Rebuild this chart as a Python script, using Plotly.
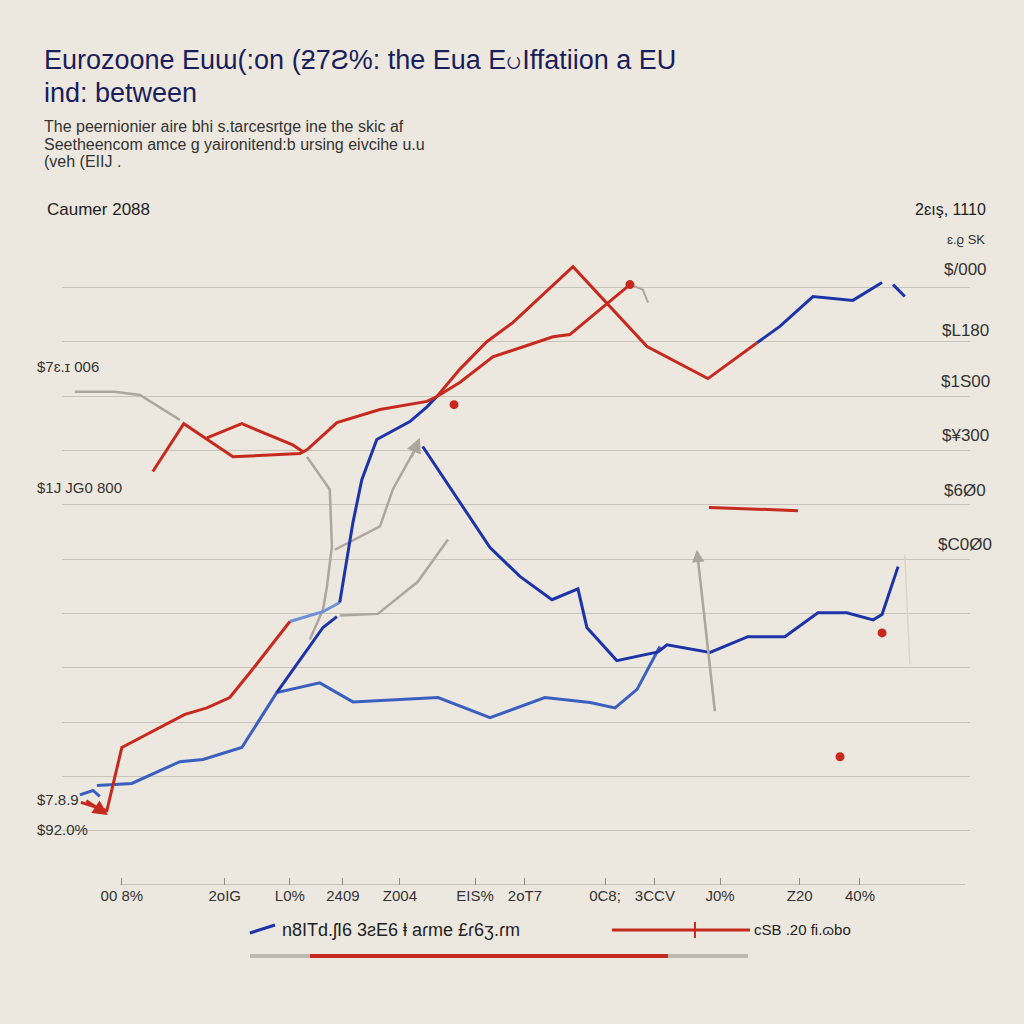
import plotly.graph_objects as go

# ---------------- data ----------------
red_upper_x = [2002.05, 2002.92, 2004.30, 2006.18, 2006.38, 2007.22, 2008.43, 2009.75, 2010.03,
               2010.67, 2011.43, 2012.16, 2013.85, 2015.93, 2017.64, 2019.02]
red_upper_y = [6.61, 7.49, 6.88, 6.94, 7.01, 7.51, 7.75, 7.90, 7.99, 8.49, 9.00, 9.35, 10.38,
               8.91, 8.32, 8.98]

red_loop_x = [2003.57, 2004.55, 2005.98, 2006.26]
red_loop_y = [7.23, 7.49, 7.10, 6.98]

red_branch_x = [2010.03, 2010.67, 2011.60, 2013.29, 2013.76, 2015.45]
red_branch_y = [7.99, 8.25, 8.72, 9.09, 9.13, 10.05]

red_lower_x = [2000.03, 2000.76, 2001.18, 2002.95, 2003.57, 2004.21, 2004.78, 2005.90]
red_lower_y = [0.52, 0.37, 1.53, 2.14, 2.26, 2.45, 2.91, 3.85]

red_short_x = [2017.67, 2020.17]
red_short_y = [5.95, 5.89]

red_dots_x = [2010.51, 2015.45, 2022.53, 2021.35]
red_dots_y = [7.84, 10.05, 3.64, 1.36]

blue_top_x = [2019.02, 2019.66, 2020.59, 2021.71, 2022.53]
blue_top_y = [8.98, 9.28, 9.83, 9.76, 10.09]
blue_tail_x = [2022.84, 2023.17]
blue_tail_y = [10.05, 9.83]

blue_light_x = [2005.90, 2006.83, 2007.30]
blue_light_y = [3.85, 4.03, 4.20]
blue_rise_x = [2007.30, 2007.50, 2007.67, 2007.92, 2008.34, 2009.27, 2009.75, 2010.03]
blue_rise_y = [4.20, 4.99, 5.67, 6.46, 7.20, 7.53, 7.80, 7.99]

blue_desc_x = [2009.63, 2011.52, 2012.36, 2013.26, 2013.99, 2014.24, 2015.08, 2016.24, 2016.49,
               2017.70, 2018.76, 2019.80, 2020.73, 2021.54, 2022.28, 2022.53, 2022.98]
blue_desc_y = [7.07, 5.21, 4.68, 4.25, 4.45, 3.74, 3.13, 3.29, 3.42, 3.28, 3.57, 3.57, 4.01,
               4.01, 3.88, 3.98, 4.86]

blue_low_x = [2000.48, 2001.46, 2002.81, 2003.46, 2004.55, 2005.53, 2006.74, 2007.67, 2010.06,
              2011.52, 2013.06, 2014.33, 2015.03, 2015.65, 2016.29]
blue_low_y = [0.83, 0.87, 1.27, 1.31, 1.53, 2.54, 2.72, 2.37, 2.45, 2.08, 2.45, 2.36, 2.26,
              2.60, 3.39]

blue_branch_x = [2005.53, 2006.38, 2006.83, 2007.22]
blue_branch_y = [2.54, 3.33, 3.74, 3.94]

blue_start_x = [2000.00, 2000.37, 2000.56]
blue_start_y = [0.66, 0.74, 0.63]

gray_a_x = [1999.86, 2000.98, 2001.69, 2002.81]
gray_a_y = [8.08, 8.08, 8.02, 7.56]
gray_b_x = [2006.38, 2007.02, 2007.08, 2006.94, 2006.83, 2006.46]
gray_b_y = [6.88, 6.28, 5.23, 4.49, 4.07, 3.52]
gray_c_x = [2007.16, 2007.87, 2008.43, 2008.79, 2009.40]
gray_c_y = [5.17, 5.41, 5.60, 6.28, 7.00]
gray_d_x = [2007.30, 2008.37, 2009.49, 2010.34]
gray_d_y = [3.96, 3.99, 4.58, 5.36]
gray_e_x = [2015.45, 2015.81, 2015.96]
gray_e_y = [10.05, 9.96, 9.72]
gray_f_x = [2023.17, 2023.31]
gray_f_y = [5.08, 3.06]

x_tick_vals = [2001.18, 2004.07, 2005.90, 2007.39, 2008.99, 2011.10, 2012.50, 2014.75,
               2016.15, 2017.98, 2020.22, 2021.91]
x_tick_text = ["00 8%", "2oIG", "L0%", "2409", "Z004", "EIS%", "2oT7", "0C8;", "3CCV",
               "J0%", "Z20", "40%"]
y_grid_vals = list(range(0, 12))

left_labels = ["$7ɛ.ɪ 006", "$1J JG0 800", "$7.8.9", "$92.0%"]
left_label_pos = [0.796, 0.6104, 0.1304, 0.0844]
right_labels = ["$/000", "$L180", "$1S00", "$¥300", "$6Ø0", "$C0Ø0"]
right_label_pos = [0.9433, 0.8512, 0.773, 0.6887, 0.6058, 0.5215]

# ---------------- style ----------------
BG = "#ede8df"
RED = "#c62a1f"
BLUE = "#1d34a8"
MBLUE = "#3a5fbf"
LBLUE = "#6d8fd6"
GRAY = "#aca69d"
NAVY = "#1a1d5c"
FONT = "Liberation Sans, Arial, sans-serif"

fig = go.Figure()

def line(x, y, color, width=3):
    fig.add_trace(go.Scatter(x=x, y=y, mode="lines", line=dict(color=color, width=width),
                             showlegend=False, hoverinfo="skip"))

line(gray_a_x, gray_a_y, GRAY, 2.5)
line(gray_b_x, gray_b_y, GRAY, 2.5)
line(gray_c_x, gray_c_y, GRAY, 2.5)
line(gray_d_x, gray_d_y, GRAY, 2.5)
line(gray_e_x, gray_e_y, GRAY, 2)
line(gray_f_x, gray_f_y, "#d9d4cc", 1.5)
line(blue_low_x, blue_low_y, MBLUE, 3)
line(blue_start_x, blue_start_y, MBLUE, 3)
line(blue_branch_x, blue_branch_y, BLUE, 3)
line(blue_desc_x, blue_desc_y, BLUE, 3)
line(blue_light_x, blue_light_y, LBLUE, 3)
line(blue_rise_x, blue_rise_y, BLUE, 3)
line(red_lower_x, red_lower_y, RED, 3)
line(red_loop_x, red_loop_y, RED, 3)
line(red_branch_x, red_branch_y, RED, 3)
line(red_upper_x, red_upper_y, RED, 3)
line(red_short_x, red_short_y, RED, 3)
line(blue_top_x, blue_top_y, BLUE, 3)
line(blue_tail_x, blue_tail_y, BLUE, 3)
fig.add_trace(go.Scatter(x=red_dots_x, y=red_dots_y, mode="markers",
                         marker=dict(color=RED, size=9), showlegend=False, hoverinfo="skip"))

annotations = []
# arrows
annotations.append(dict(x=2000.79, y=0.29, ax=2000.14, ay=0.57, axref="x", ayref="y",
                        xref="x", yref="y", text="", showarrow=True, arrowhead=2,
                        arrowsize=1, arrowwidth=3, arrowcolor=RED))
annotations.append(dict(x=2009.55, y=7.23, ax=2009.30, ay=6.85, axref="x", ayref="y",
                        xref="x", yref="y", text="", showarrow=True, arrowhead=2,
                        arrowsize=1.2, arrowwidth=2.5, arrowcolor=GRAY))
annotations.append(dict(x=2017.33, y=5.17, ax=2017.84, ay=2.17, axref="x", ayref="y",
                        xref="x", yref="y", text="", showarrow=True, arrowhead=2,
                        arrowsize=1, arrowwidth=2.5, arrowcolor=GRAY))

# title & subtitle
annotations.append(dict(x=-0.022, y=1.2653, xref="paper", yref="paper", xanchor="left",
                        yanchor="middle", showarrow=False,
                        text="Eurozoone Euɯ(:on (ƻ7Ƨ%: the Eua EပIffatiion a EU",
                        font=dict(family=FONT, size=27, color=NAVY)))
annotations.append(dict(x=-0.022, y=1.2147, xref="paper", yref="paper", xanchor="left",
                        yanchor="middle", showarrow=False, text="ind: between",
                        font=dict(family=FONT, size=27, color=NAVY)))
subs = ["The peernionier aire bhi s.tarcesrtge ine the skic af",
        "Seetheencom amce g yaironitend:b ursing eivcihe u.u",
        "(veh (EIIJ ."]
for s, yy in zip(subs, [1.1626, 1.135, 1.109]):
    annotations.append(dict(x=-0.022, y=yy, xref="paper", yref="paper", xanchor="left",
                            yanchor="middle", showarrow=False, text=s,
                            font=dict(family=FONT, size=16, color="#333333")))

annotations.append(dict(x=-0.0187, y=1.0353, xref="paper", yref="paper", xanchor="left",
                        yanchor="middle", showarrow=False, text="Caumer 2088",
                        font=dict(family=FONT, size=17, color="#222222")))
annotations.append(dict(x=1.0198, y=1.0353, xref="paper", yref="paper", xanchor="right",
                        yanchor="middle", showarrow=False, text="2ɛış, 1110",
                        font=dict(family=FONT, size=16, color="#222222")))
annotations.append(dict(x=1.0187, y=0.9893, xref="paper", yref="paper", xanchor="right",
                        yanchor="middle", showarrow=False, text="ɛ.ϱ SK",
                        font=dict(family=FONT, size=13, color="#333333")))
for t, yy in zip(right_labels, right_label_pos):
    annotations.append(dict(x=0.9945, y=yy, xref="paper", yref="paper", xanchor="center",
                            yanchor="middle", showarrow=False, text=t,
                            font=dict(family=FONT, size=17, color="#333333")))
for t, yy in zip(left_labels, left_label_pos):
    annotations.append(dict(x=-0.0297, y=yy, xref="paper", yref="paper", xanchor="left",
                            yanchor="middle", showarrow=False, text=t,
                            font=dict(family=FONT, size=15, color="#333333")))

# legend texts
annotations.append(dict(x=0.2401, y=-0.069, xref="paper", yref="paper", xanchor="left",
                        yanchor="middle", showarrow=False,
                        text="n8ITd.ʃI6 3ƨE6 ⱡ aɾme £ɾ6ʒ.ɾm",
                        font=dict(family=FONT, size=18, color="#222222")))
annotations.append(dict(x=0.7599, y=-0.069, xref="paper", yref="paper", xanchor="left",
                        yanchor="middle", showarrow=False, text="cSB .20 fi.ɷbo",
                        font=dict(family=FONT, size=15, color="#222222")))

shapes = [
    # x axis baseline
    dict(type="line", xref="x", yref="y", x0=2001.13, x1=2024.86, y0=-1, y1=-1,
         line=dict(color="#9c978f", width=1)),
    # legend samples
    dict(type="line", xref="paper", yref="paper", x0=0.207, x1=0.2346, y0=-0.0736,
         y1=-0.0613, line=dict(color=BLUE, width=3)),
    dict(type="line", xref="paper", yref="paper", x0=0.6057, x1=0.7577, y0=-0.069,
         y1=-0.069, line=dict(color=RED, width=3)),
    dict(type="line", xref="paper", yref="paper", x0=0.6971, x1=0.6971, y0=-0.0567,
         y1=-0.0813, line=dict(color=RED, width=2)),
    # bottom bar
    dict(type="line", xref="paper", yref="paper", x0=0.207, x1=0.2731, y0=-0.1089,
         y1=-0.1089, line=dict(color="#bdb8b0", width=4)),
    dict(type="line", xref="paper", yref="paper", x0=0.2731, x1=0.6674, y0=-0.1089,
         y1=-0.1089, line=dict(color=RED, width=4)),
    dict(type="line", xref="paper", yref="paper", x0=0.6674, x1=0.7555, y0=-0.1089,
         y1=-0.1089, line=dict(color="#bdb8b0", width=4)),
]

fig.update_layout(
    width=1024, height=1024,
    margin=dict(l=62, r=54, t=233, b=139),
    paper_bgcolor=BG, plot_bgcolor=BG,
    showlegend=False,
    annotations=annotations,
    shapes=shapes,
    xaxis=dict(range=[1999.5, 2025], tickvals=x_tick_vals, ticktext=x_tick_text,
               showgrid=False, zeroline=False, showline=False, ticks="inside",
               ticklen=7, tickcolor="#8f8a82", tickfont=dict(family=FONT, size=15,
               color="#333333"), fixedrange=True),
    yaxis=dict(range=[-1, 11], tickvals=y_grid_vals, showticklabels=False,
               showgrid=True, gridcolor="#c9c4bb", gridwidth=1, zeroline=False,
               showline=False, ticks="", fixedrange=True),
)

fig.write_html("out.html",
               config={"displayModeBar": False, "staticPlot": True},
               post_script="document.body.style.margin='0px';"
                           "document.body.style.overflow='hidden';"
                           "document.body.style.background='" + BG + "';")
